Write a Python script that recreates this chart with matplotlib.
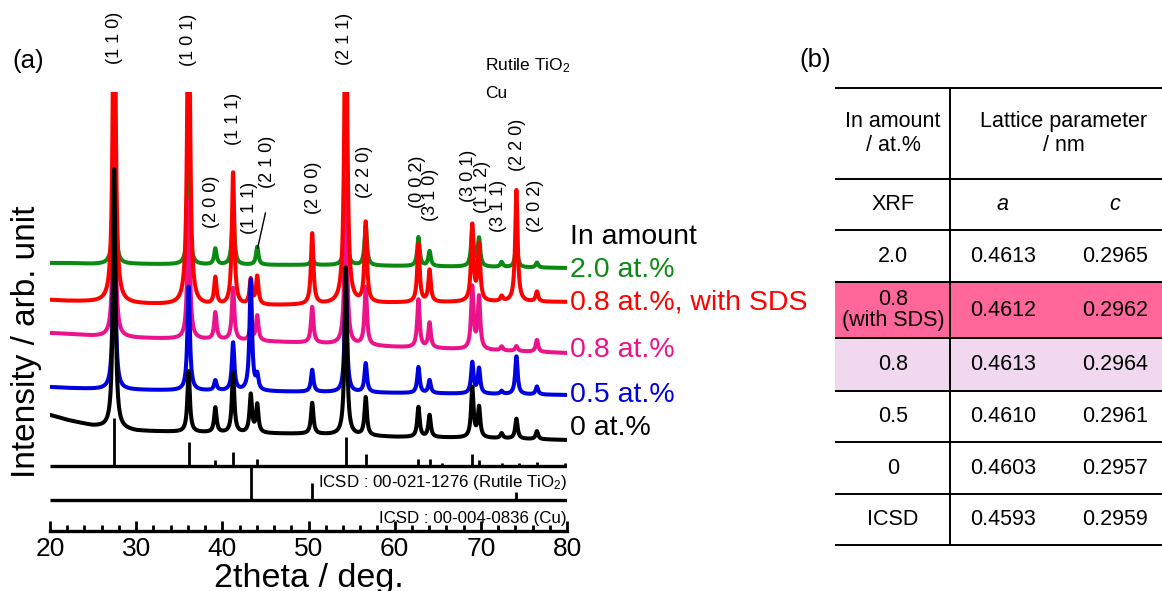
import numpy as np
import matplotlib
matplotlib.use("Agg")
import matplotlib.pyplot as plt
from matplotlib.ticker import MultipleLocator

plt.rcParams['font.family'] = ['Liberation Sans', 'DejaVu Sans']
plt.rcParams['mathtext.fontset'] = 'custom'
plt.rcParams['mathtext.rm'] = 'Liberation Sans'
plt.rcParams['mathtext.it'] = 'Liberation Sans:italic'

# ---------------- XRD data ----------------
# reflection positions (2theta / deg)
peak_pos = [27.45, 36.09, 39.19, 41.25, 43.30, 44.05, 50.43, 54.33,
            56.64, 62.76, 64.05, 69.01, 69.79, 72.41, 74.13, 76.51]

# peak heights above background for each sample (arb. unit)
h_0 = [260, 61, 25, 60, 38, 28, 31, 168, 38, 30, 22, 50, 30, 5, 20, 8]
h_05 = [180, 104, 10, 48, 111, 14, 22, 106, 29, 26, 13, 31, 25, 3, 38, 8]
h_08 = [200, 140, 27, 52, 15, 25, 36, 165, 58, 48, 25, 62, 52, 4, 5, 12]
h_08sds = [420, 400, 27, 133, 25, 28, 71, 400, 80, 58, 32, 76, 56, 5, 112, 10]
h_20 = [115, 95, 16, 57, 0, 18, 8, 65, 40, 29, 15, 38, 28, 5, 25, 5]

# background levels (offset included) at a few 2theta values
bg_pos = [20, 22, 25, 30, 40, 50, 60, 70, 80]
bg_0 = [116, 111, 105, 100, 98, 97, 94, 93, 91]
bg_05 = [144, 143, 142, 141, 140, 139, 138, 137, 136]
bg_08 = [198, 197, 195, 193, 191, 188, 184, 181, 178]
bg_08sds = [231, 230, 229, 227, 225, 226, 228, 229, 229]
bg_20 = [268, 268, 267, 267, 266, 266, 265, 264, 263]

labels = ["0 at.%", "0.5 at.%", "0.8 at.%", "0.8 at.%, with SDS", "2.0 at.%"]
colors = ["#000000", "#0000e0", "#ec128c", "#ff0000", "#0b8a13"]
label_y = [103, 136, 181, 229, 261]

# reference patterns
tio2_pos = [27.45, 36.09, 39.19, 41.25, 44.05, 54.33, 56.64, 62.76, 64.05,
            65.50, 69.01, 69.79, 72.41, 74.41, 76.51, 79.82]
tio2_int = [48, 24, 6, 14, 7, 29, 12, 7, 7, 3, 12, 6, 3, 3, 4, 3]
cu_pos = [43.30, 50.43, 74.13]
cu_int = [33, 17, 8]

# Miller index labels: text, x (deg), y (arb. unit)
hkl_text = ["(1 1 0)", "(1 0 1)", "(2 0 0)", "(1 1 1)", "(1 1 1)", "(2 1 0)",
            "(2 0 0)", "(2 1 1)", "(2 2 0)", "(0 0 2)", "(3 1 0)", "(3 0 1)",
            "(1 1 2)", "(3 1 1)", "(2 2 0)", "(2 0 2)"]
hkl_x = [27.45, 36.09, 38.75, 41.25, 43.20, 45.20, 50.55, 54.15, 56.45,
         62.70, 64.20, 68.60, 70.25, 72.10, 74.20, 76.40]
hkl_y = [493, 491, 329, 412, 323, 369, 343, 492, 359, 349, 336, 355,
         344, 325, 386, 325]

two_theta = np.arange(20.0, 80.0001, 0.02)
fwhm = 0.34


def pattern(heights, bg):
    """Background plus Lorentzian reflections."""
    y = np.interp(two_theta, bg_pos, bg).astype(float)
    for p, h in zip(peak_pos, heights):
        y += h / (1.0 + ((two_theta - p) / (fwhm / 2)) ** 2)
    return y


series = [h_0, h_05, h_08, h_08sds, h_20]
backgrounds = [bg_0, bg_05, bg_08, bg_08sds, bg_20]
zorders = [6, 5, 3, 4, 2]

W, H = 1162, 591
fig = plt.figure(figsize=(W / 100, H / 100), dpi=100)

ax = fig.add_axes([50 / W, 60 / H, 517 / W, 439 / H])
ax.set_xlim(20, 80)
ax.set_ylim(0, 439)

for hts, bg, c, z in zip(series, backgrounds, colors, zorders):
    ax.plot(two_theta, pattern(hts, bg), color=c, lw=2.9, zorder=z,
            solid_joinstyle='round')

# reference stick patterns
tio2_base, cu_base = 65, 31
ax.plot([20, 80], [tio2_base, tio2_base], color='k', lw=2.4, zorder=7,
        solid_capstyle='butt')
ax.plot([20, 80], [cu_base, cu_base], color='k', lw=2.4, zorder=7,
        solid_capstyle='butt')
ax.vlines(tio2_pos, tio2_base, np.array(tio2_int) + tio2_base, color='k',
          lw=2.0, zorder=7)
ax.vlines(cu_pos, cu_base, np.array(cu_int) + cu_base, color='k', lw=2.0,
          zorder=7)
ax.text(80, 48, "ICSD : 00-021-1276 (Rutile TiO$_2$)", ha='right',
        va='center', fontsize=12.2)
ax.text(80, 12, "ICSD : 00-004-0836 (Cu)", ha='right', va='center',
        fontsize=12.2)

# Miller indices
for t, x, y in zip(hkl_text, hkl_x, hkl_y):
    ax.text(x, y, t, rotation=90, ha='center', va='center', fontsize=13,
            clip_on=False)
ax.plot([45.0, 44.1], [318, 283], color='k', lw=1.0, clip_on=False, zorder=8)

ax.text(70.5, 465, "Rutile TiO$_2$", ha='left', va='center', fontsize=12.5,
        clip_on=False)
ax.text(70.5, 438, "Cu", ha='left', va='center', fontsize=12.5,
        clip_on=False)

# legend text at the end of each pattern
ax.text(80.3, 294, "In amount", ha='left', va='center', fontsize=20.5,
        clip_on=False)
for lab, c, y in zip(labels, colors, label_y):
    ax.text(80.3, y, lab, color=c, ha='left', va='center', fontsize=20.5,
            clip_on=False)

for side in ['top', 'left', 'right']:
    ax.spines[side].set_visible(False)
ax.spines['bottom'].set_linewidth(2.4)
ax.set_yticks([])
ax.xaxis.set_major_locator(MultipleLocator(10))
ax.xaxis.set_minor_locator(MultipleLocator(2))
ax.tick_params(axis='x', which='major', direction='in', length=7, width=2,
               labelsize=19, pad=4)
ax.tick_params(axis='x', which='minor', direction='in', length=4, width=2)

# ---------------- overlay: captions and lattice-parameter table ----------------
ov = fig.add_axes([0, 0, 1, 1])
ov.set_xlim(0, W)
ov.set_ylim(H, 0)
ov.axis('off')

ov.text(12, 61, "(a)", fontsize=18.5, ha='left', va='center')
ov.text(799, 60, "(b)", fontsize=18.5, ha='left', va='center')
ov.text(27, 342, "Intensity / arb. unit", rotation=90, fontsize=24,
        ha='center', va='center')
ov.text(309, 578, "2theta / deg.", fontsize=24.5, ha='center', va='center')

in_amount = ["2.0", "0.8\n(with SDS)", "0.8", "0.5", "0", "ICSD"]
a_param = [0.4613, 0.4612, 0.4613, 0.4610, 0.4603, 0.4593]
c_param = [0.2965, 0.2962, 0.2964, 0.2961, 0.2957, 0.2959]
row_fill = [None, "#ff6699", "#f0d8ee", None, None, None]

tx0, tx1, tv = 835, W, 950
col_x = [893, 1003, 1115]
row_edges = [88, 179, 230, 282, 338, 391, 442, 494, 545]
fs = 15.5

for i, fill in enumerate(row_fill):
    if fill:
        top, bot = row_edges[i + 2], row_edges[i + 3]
        ov.fill_between([tx0, tx1], top, bot, color=fill, lw=0, zorder=0)
for y in row_edges:
    ov.plot([tx0, tx1], [y, y], color='k', lw=1.4, solid_capstyle='butt')
ov.plot([tv, tv], [row_edges[0], row_edges[-1]], color='k', lw=1.4)

hy = (row_edges[0] + row_edges[1]) / 2
ov.text(col_x[0], hy, "In amount\n/ at.%", ha='center', va='center',
        fontsize=fs, linespacing=1.15)
ov.text(1064, hy, "Lattice parameter\n/ nm", ha='center', va='center',
        fontsize=fs, linespacing=1.15)
sy = (row_edges[1] + row_edges[2]) / 2
ov.text(col_x[0], sy, "XRF", ha='center', va='center', fontsize=fs)
ov.text(col_x[1], sy, "a", ha='center', va='center', fontsize=fs,
        style='italic')
ov.text(col_x[2], sy, "c", ha='center', va='center', fontsize=fs,
        style='italic')
for i, (s, a, c) in enumerate(zip(in_amount, a_param, c_param)):
    cy = (row_edges[i + 2] + row_edges[i + 3]) / 2
    ov.text(col_x[0], cy, s, ha='center', va='center', fontsize=fs,
            linespacing=1.0)
    ov.text(col_x[1], cy, f"{a:.4f}", ha='center', va='center', fontsize=fs)
    ov.text(col_x[2], cy, f"{c:.4f}", ha='center', va='center', fontsize=fs)

fig.savefig("out.png", dpi=100)
